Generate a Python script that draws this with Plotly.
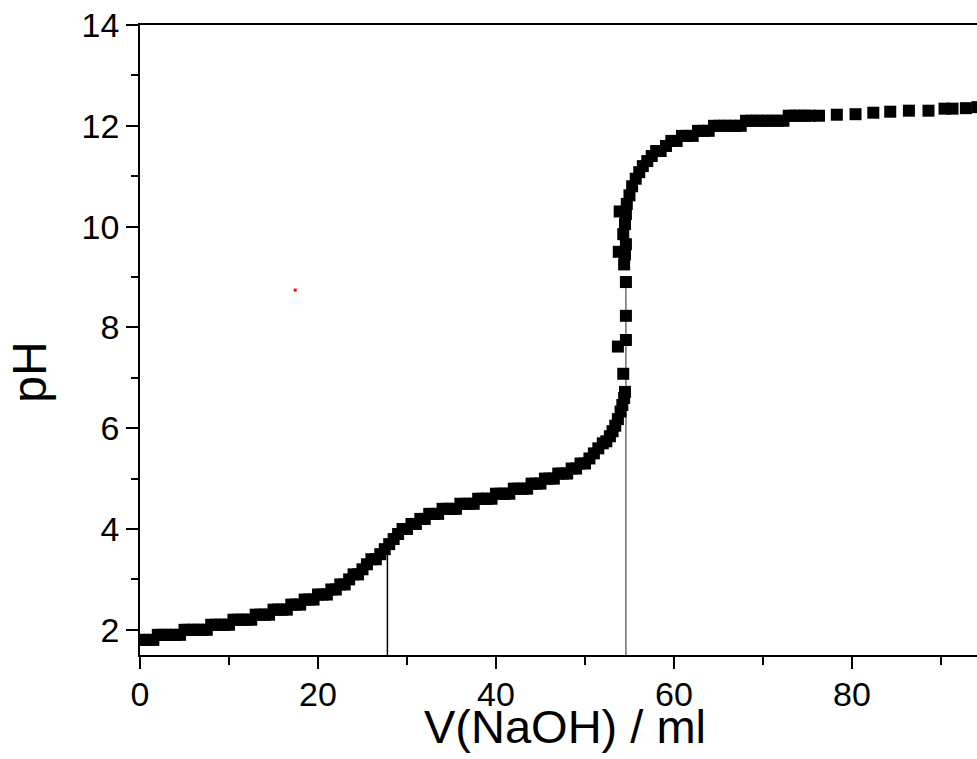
import plotly.graph_objects as go

# Titration data: volume of NaOH (ml) and pH
volume_ml = [
    0.0, 0.5, 1.0, 1.5, 2.0, 2.5, 3.0, 3.5, 4.0, 4.5, 5.0, 5.5, 6.0, 6.5, 7.0, 7.5,
    8.0, 8.5, 9.0, 9.5, 10.0, 10.5, 11.0, 11.5, 12.0, 12.5, 13.0, 13.5, 14.0, 14.5,
    15.0, 15.5, 16.0, 16.5, 17.0, 17.5, 18.0, 18.5, 19.0, 19.5, 20.0, 20.5, 21.0,
    21.5, 22.0, 22.5, 23.0, 23.5, 24.0, 24.5, 25.0, 25.5, 26.0, 26.5, 27.0, 27.5,
    28.0, 28.5, 29.0, 29.5, 30.0, 30.5, 31.0, 31.5, 32.0, 32.5, 33.0, 33.5, 34.0,
    34.5, 35.0, 35.5, 36.0, 36.5, 37.0, 37.5, 38.0, 38.5, 39.0, 39.5, 40.0, 40.5,
    41.0, 41.5, 42.0, 42.5, 43.0, 43.5, 44.0, 44.5, 45.0, 45.5, 46.0, 46.5, 47.0,
    47.5, 48.0, 48.5, 49.0, 49.5, 50.0, 50.5, 51.0, 51.5, 52.0, 52.4, 52.8, 53.1,
    53.4, 53.7, 54.0, 54.2, 54.4, 54.5, 54.3, 53.7, 54.6, 54.6, 54.6, 54.4, 53.8,
    54.5, 54.6, 54.3, 54.5, 53.9, 54.6, 54.7, 55.0, 55.3, 55.7, 56.1, 56.5, 57.0,
    57.5, 58.0, 58.5, 59.1, 59.7, 60.3, 60.9, 61.5, 62.1, 62.7, 63.3, 63.9, 64.5,
    65.1, 65.7, 66.3, 66.9, 67.5, 68.1, 68.7, 69.3, 69.9, 70.5, 71.1, 71.7, 72.3,
    72.9, 73.5, 74.1, 74.7, 75.3, 76.3, 78.3, 80.4, 82.4, 84.3, 86.4, 88.6, 90.4,
    91.3, 92.8, 94.1,
]
ph_values = [
    1.8, 1.8, 1.8, 1.8, 1.9, 1.9, 1.9, 1.9, 1.9, 1.9, 2.0, 2.0, 2.0, 2.0, 2.0, 2.0,
    2.1, 2.1, 2.1, 2.1, 2.1, 2.2, 2.2, 2.2, 2.2, 2.2, 2.3, 2.3, 2.3, 2.3,
    2.4, 2.4, 2.4, 2.4, 2.5, 2.5, 2.5, 2.6, 2.6, 2.6, 2.7, 2.7, 2.7,
    2.8, 2.8, 2.9, 2.9, 3.0, 3.1, 3.1, 3.2, 3.3, 3.4, 3.4, 3.5, 3.6,
    3.7, 3.8, 3.9, 4.0, 4.0, 4.1, 4.1, 4.2, 4.2, 4.3, 4.3, 4.3, 4.4,
    4.4, 4.4, 4.4, 4.5, 4.5, 4.5, 4.5, 4.6, 4.6, 4.6, 4.6, 4.7, 4.7,
    4.7, 4.7, 4.8, 4.8, 4.8, 4.8, 4.9, 4.9, 4.9, 5.0, 5.0, 5.0, 5.1,
    5.1, 5.1, 5.2, 5.2, 5.3, 5.3, 5.4, 5.5, 5.6, 5.7, 5.74, 5.84, 5.94,
    6.05, 6.18, 6.33, 6.46, 6.60, 6.72, 7.08, 7.62, 7.75, 8.23, 8.90, 9.25, 9.50,
    9.45, 9.65, 9.85, 10.05, 10.30, 10.25, 10.45, 10.62, 10.80, 10.95, 11.08, 11.20, 11.30,
    11.4, 11.5, 11.5, 11.6, 11.7, 11.7, 11.8, 11.8, 11.8, 11.9, 11.9, 11.9, 12.0,
    12.0, 12.0, 12.0, 12.0, 12.0, 12.1, 12.1, 12.1, 12.1, 12.1, 12.1, 12.1, 12.1,
    12.2, 12.2, 12.2, 12.2, 12.2, 12.20, 12.22, 12.23, 12.26, 12.28, 12.30, 12.30, 12.34,
    12.34, 12.35, 12.37,
]

# Vertical marker lines at the half-equivalence and equivalence points
eq_volumes = [27.8, 54.6]
eq_line_tops = [3.49, 8.8]
eq_line_colors = ["#000000", "#6e6e6e"]

# Stray red dot
red_dot_x = [17.44]
red_dot_y = [8.74]

x_tick_vals = [0, 20, 40, 60, 80]
x_minor_vals = [10, 30, 50, 70, 90]
y_tick_vals = [2, 4, 6, 8, 10, 12, 14]
y_minor_vals = [3, 5, 7, 9, 11, 13]

x_range = [0, 94.05]
y_range = [1.5, 14]

FONT = "Liberation Sans, Arial, Helvetica, sans-serif"

fig = go.Figure()

for xv, top, col in zip(eq_volumes, eq_line_tops, eq_line_colors):
    fig.add_trace(go.Scatter(
        x=[xv, xv], y=[y_range[0], top], mode="lines",
        line=dict(color=col, width=1.5), hoverinfo="skip", showlegend=False,
    ))

fig.add_trace(go.Scatter(
    x=volume_ml, y=ph_values, mode="markers",
    marker=dict(symbol="square", size=12, color="black", line=dict(width=0)),
    showlegend=False,
))

fig.add_trace(go.Scatter(
    x=red_dot_x, y=red_dot_y, mode="markers",
    marker=dict(symbol="square", size=3, color="red", line=dict(width=0)),
    showlegend=False,
))

axis_common = dict(
    showgrid=False, zeroline=False, showline=True, linecolor="black", linewidth=1.6,
    ticks="outside", tickcolor="black", tickwidth=1.6, ticklen=12,
    tickfont=dict(family=FONT, size=34, color="black"),
)

fig.update_xaxes(
    range=x_range, tickmode="array", tickvals=x_tick_vals, mirror=True,
    ticklabelstandoff=-4,
    minor=dict(ticks="outside", ticklen=8, tickwidth=1.6, tickcolor="black",
               tickmode="array", tickvals=x_minor_vals, showgrid=False),
    **axis_common,
)
fig.update_yaxes(
    range=y_range, tickmode="array", tickvals=y_tick_vals, mirror=False,
    minor=dict(ticks="outside", ticklen=7, tickwidth=1.6, tickcolor="black",
               tickmode="array", tickvals=y_minor_vals, showgrid=False),
    **axis_common,
)

fig.add_annotation(
    text="V(NaOH) / ml", xref="paper", yref="paper", x=0.5072, y=-0.1127,
    xanchor="center", yanchor="middle", showarrow=False,
    font=dict(family=FONT, size=47, color="black"),
)
fig.add_annotation(
    text="pH", xref="paper", yref="paper", x=-0.132, y=0.449,
    xanchor="center", yanchor="middle", textangle=-90, showarrow=False,
    font=dict(family=FONT, size=48, color="black"),
)

fig.update_layout(
    width=977, height=759,
    margin=dict(l=140, r=0, t=25, b=104, pad=0),
    paper_bgcolor="white", plot_bgcolor="white",
    showlegend=False,
)

# Remove the default 8px page margin so the figure fills the window exactly
fig.write_html(
    "out.html",
    config={"displayModeBar": False},
    post_script="document.body.style.margin='0px';document.body.style.overflow='hidden';",
)
